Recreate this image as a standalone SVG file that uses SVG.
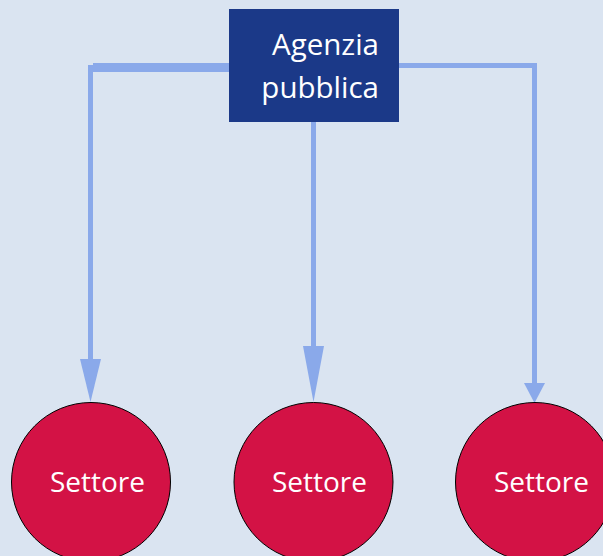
<svg xmlns="http://www.w3.org/2000/svg" width="603" height="556" viewBox="0 0 603 556">
<style>
.bg{fill:#DAE4F1}
.box{fill:#1B3988}
.conn{fill:none;stroke:#8AA9EA;stroke-linejoin:miter}
.head{fill:#8AA9EA}
.node{fill:#D31245;stroke:#000;stroke-width:1}
.lbl{font-family:"Open Sans","Noto Sans",sans-serif;font-size:28px;fill:#fff}
.big{font-size:29.5px}
</style>
<rect class="bg" x="0" y="0" width="603" height="556"/>
<g id="connectors">
<path class="conn" d="M229 67.5 H90.5 V360" stroke-width="5"/>
<path class="conn" d="M229 67.5 H93" stroke-width="9"/>
<polygon class="head" points="80,359 101,359 90.5,402"/>
<path class="conn" d="M313.5 122 V347" stroke-width="5"/>
<polygon class="head" points="303,346 324,346 313.5,402"/>
<path class="conn" d="M399 65.5 H534.5 V384" stroke-width="5"/>
<polygon class="head" points="524,383 545,383 534.5,403"/>
</g>
<g id="agenzia">
<rect class="box" x="229" y="9" width="170" height="113"/>
<text class="lbl big" text-anchor="end" x="379" y="55">Agenzia</text>
<text class="lbl big" text-anchor="end" x="379" y="97.5">pubblica</text>
</g>
<g id="settore1">
<circle class="node" cx="91" cy="482" r="79.5"/>
<text class="lbl" text-anchor="middle" x="97.5" y="492">Settore</text>
</g>
<g id="settore2">
<circle class="node" cx="313.5" cy="482" r="79.5"/>
<text class="lbl" text-anchor="middle" x="319.5" y="492">Settore</text>
</g>
<g id="settore3">
<circle class="node" cx="535" cy="482" r="79.5"/>
<text class="lbl" text-anchor="middle" x="541.5" y="492">Settore</text>
</g>
</svg>
